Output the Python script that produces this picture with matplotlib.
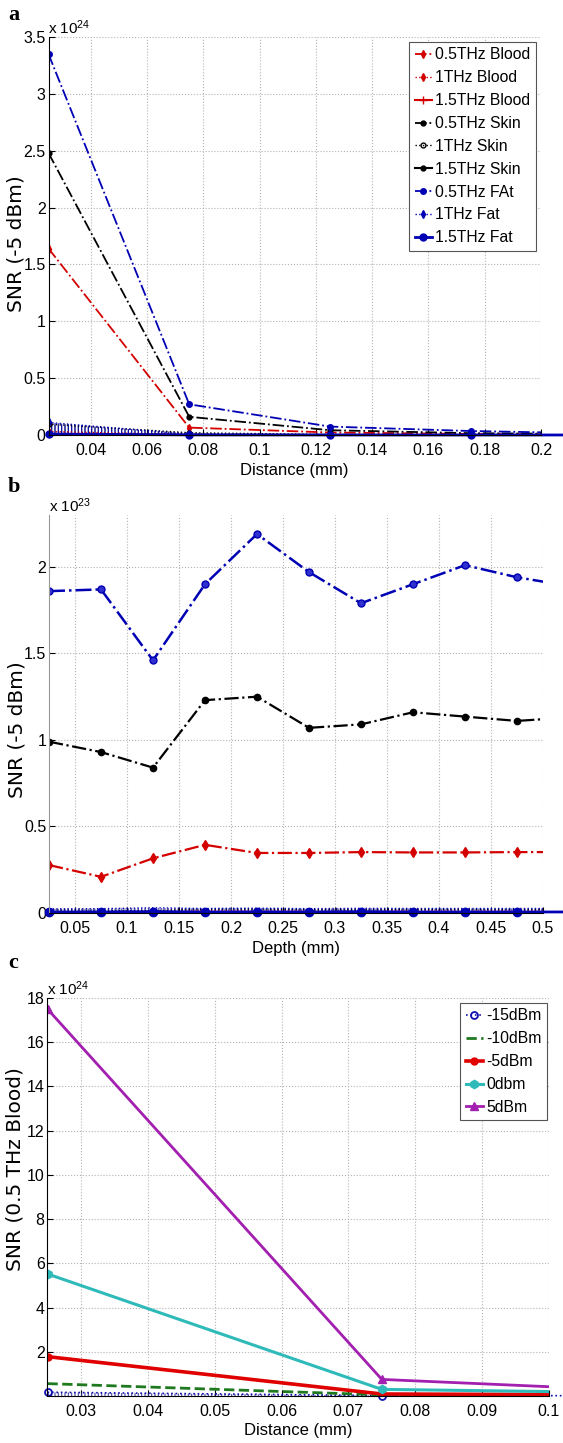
import numpy as np
import matplotlib
matplotlib.use("Agg")
import matplotlib.pyplot as plt

# --- panel a: SNR vs distance (x 1e24) ---
dist_a = [0.025, 0.075, 0.125, 0.175, 0.225]
blood_05_a = [1.64, 0.065, 0.022, 0.009, 0.004]
blood_1_a = [0.030, 0.004, 0.001, 0.0005, 0.0003]
blood_15_a = [0.004, 0.0006, 0.0002, 0.0001, 0.0001]
skin_05_a = [2.48, 0.16, 0.042, 0.016, 0.008]
skin_1_a = [0.095, 0.02, 0.004, 0.001, 0.0005]
skin_15_a = [0.006, 0.0008, 0.0003, 0.0001, 0.0001]
fat_05_a = [3.35, 0.27, 0.074, 0.035, 0.012]
fat_1_a = [0.11, 0.008, 0.002, 0.001, 0.0005]
fat_15_a = [0.008, 0.001, 0.0003, 0.0001, 0.0001]

# --- panel b: SNR vs depth (x 1e23) ---
depth_b = [0.025, 0.075, 0.125, 0.175, 0.225, 0.275, 0.325, 0.375, 0.425, 0.475, 0.525]
blood_05_b = [0.277, 0.209, 0.316, 0.394, 0.347, 0.347, 0.352, 0.350, 0.350, 0.352, 0.352]
blood_1_b = [0.010, 0.008, 0.011, 0.013, 0.012, 0.012, 0.012, 0.012, 0.012, 0.012, 0.012]
skin_05_b = [0.99, 0.93, 0.84, 1.23, 1.25, 1.07, 1.09, 1.16, 1.135, 1.11, 1.13]
skin_1_b = [0.018, 0.016, 0.015, 0.022, 0.022, 0.019, 0.019, 0.020, 0.020, 0.019, 0.020]
fat_05_b = [1.86, 1.87, 1.46, 1.90, 2.19, 1.97, 1.79, 1.90, 2.01, 1.94, 1.89]
fat_1_b = [0.024, 0.025, 0.030, 0.026, 0.028, 0.025, 0.027, 0.026, 0.026, 0.026, 0.026]
fat_15_b = [0.006, 0.006, 0.008, 0.006, 0.007, 0.006, 0.008, 0.006, 0.006, 0.006, 0.006]

# --- panel c: SNR (0.5 THz Blood) vs distance, several powers (x 1e24) ---
dist_c = [0.025, 0.075, 0.125]
snr_m15 = [0.17, 0.02, 0.01]
snr_m10 = [0.56, 0.05, 0.03]
snr_m5 = [1.78, 0.09, 0.04]
snr_0 = [5.52, 0.30, 0.10]
snr_5 = [17.5, 0.75, 0.09]

W, H = 563, 1443
RED, BLK, BLU = "#d40000", "#000000", "#0000b4"

plt.rcParams["font.family"] = ["Liberation Sans", "DejaVu Sans"]
plt.rcParams["mathtext.fontset"] = "custom"
plt.rcParams["mathtext.rm"] = "Liberation Sans"
plt.rcParams["mathtext.default"] = "regular"
plt.rcParams["hatch.linewidth"] = 0.8

fig = plt.figure(figsize=(W / 100, H / 100), dpi=100)


def px_axes(left, top, right, bottom):
    return fig.add_axes([left / W, 1 - bottom / H, (right - left) / W, (bottom - top) / H])


def style(ax, ylabel, xlabel, ylab_y, exponent):
    ax.grid(True, linestyle=":", color="#b4b4b4", linewidth=0.8)
    ax.set_axisbelow(True)
    for s in ("top", "right"):
        ax.spines[s].set_visible(False)
    ax.tick_params(direction="in", length=4, width=0.8, labelsize=11.5)
    ax.tick_params(axis="x", pad=6)
    ax.tick_params(axis="y", pad=2)
    ax.set_xlabel(xlabel, fontsize=12, labelpad=3)
    ax.set_ylabel(ylabel, fontsize=14.5, family="DejaVu Sans", va="center")
    ax.yaxis.set_label_coords(-32 / (ax.get_position().width * W), ylab_y)
    ax.text(0.0, 1.0, "x 10$^{%d}$" % exponent, transform=ax.transAxes,
            ha="left", va="bottom", fontsize=11)


def hatch_band(ax, x, y, color):
    ax.fill_between(x, 0, y, facecolor="none", edgecolor=color, linewidth=0,
                    hatch="|||||", alpha=0.9)


def add_legend(ax, right_px, top_px):
    leg = ax.legend(loc="upper right", bbox_to_anchor=(right_px / W, 1 - top_px / H),
                    bbox_transform=fig.transFigure, fontsize=11.3, handlelength=1.1,
                    handletextpad=0.2, labelspacing=0.5, borderpad=0.35, borderaxespad=0,
                    fancybox=False, framealpha=1)
    leg.get_frame().set_edgecolor("#555555")
    leg.get_frame().set_linewidth(0.8)


# ---------------- a ----------------
ax = px_axes(48.5, 37, 541, 435)
hatch_band(ax, dist_a, skin_1_a, "#404040")
hatch_band(ax, dist_a, fat_1_a, BLU)
ax.plot(dist_a, blood_05_a, "-.", color=RED, marker="d", ms=4, lw=1.3, label="0.5THz Blood")
ax.plot(dist_a, blood_1_a, ":", color=RED, marker="d", ms=4, lw=1.0, label="1THz Blood")
ax.plot(dist_a, blood_15_a, "-", color=RED, marker="+", ms=6, lw=1.5, label="1.5THz Blood")
ax.plot(dist_a, skin_05_a, "-.", color=BLK, marker="o", ms=3.5, lw=1.3, label="0.5THz Skin")
ax.plot(dist_a, skin_1_a, ":", color=BLK, marker="o", ms=3.5, mfc="none", lw=1.0, label="1THz Skin")
ax.plot(dist_a, skin_15_a, "-", color=BLK, marker="o", ms=3.5, lw=1.5, label="1.5THz Skin")
ax.plot(dist_a, fat_05_a, "-.", color=BLU, marker="o", ms=4, lw=1.3, label="0.5THz FAt")
ax.plot(dist_a, fat_1_a, ":", color=BLU, marker="d", ms=4, lw=1.0, label="1THz Fat")
ax.plot(dist_a, fat_15_a, "-", color=BLU, marker="o", ms=5, lw=2.0, label="1.5THz Fat", clip_on=False)
ax.set_xlim(0.025, 0.2)
ax.set_ylim(0, 3.5)
ax.set_xticks([0.04, 0.06, 0.08, 0.1, 0.12, 0.14, 0.16, 0.18, 0.2])
ax.set_xticklabels(["0.04", "0.06", "0.08", "0.1", "0.12", "0.14", "0.16", "0.18", "0.2"])
ax.set_yticks([0, 0.5, 1, 1.5, 2, 2.5, 3, 3.5])
ax.set_yticklabels(["0", "0.5", "1", "1.5", "2", "2.5", "3", "3.5"])
style(ax, "SNR (-5 dBm)", "Distance (mm)", 0.48, 24)
add_legend(ax, 536, 42)

# ---------------- b ----------------
ax = px_axes(49, 515, 543, 913)
hatch_band(ax, depth_b, fat_1_b, "#4040c0")
ax.plot(depth_b, blood_05_b, "-.", color=RED, marker="d", ms=5, lw=1.6)
ax.plot(depth_b, blood_1_b, ":", color=RED, lw=1.0)
ax.plot(depth_b, skin_05_b, "-.", color=BLK, marker="o", ms=4.5, lw=1.6)
ax.plot(depth_b, skin_1_b, ":", color=BLK, lw=1.0)
ax.plot(depth_b, fat_05_b, "-.", color=BLU, marker="o", ms=5, mfc="#3030d0", lw=1.8)
ax.plot(depth_b, fat_1_b, ":", color=BLU, lw=1.0)
ax.plot(depth_b, fat_15_b, "-", color=BLU, marker="o", ms=6, lw=2.0, clip_on=False)
ax.set_xlim(0.025, 0.5)
ax.set_ylim(0, 2.3)
ax.set_xticks([0.05, 0.1, 0.15, 0.2, 0.25, 0.3, 0.35, 0.4, 0.45, 0.5])
ax.set_xticklabels(["0.05", "0.1", "0.15", "0.2", "0.25", "0.3", "0.35", "0.4", "0.45", "0.5"])
ax.set_yticks([0, 0.5, 1, 1.5, 2])
ax.set_yticklabels(["0", "0.5", "1", "1.5", "2"])
style(ax, "SNR (-5 dBm)", "Depth (mm)", 0.46, 23)
ax.spines["left"].set_color("#999999")

# ---------------- c ----------------
ax = px_axes(47.5, 998, 549, 1396)
hatch_band(ax, dist_c, snr_m15, "#333399")
ax.plot(dist_c, snr_m15, ":", color="#1010b0", marker="o", ms=5, mfc="none", mew=1.3, lw=1.2,
        label="-15dBm", clip_on=False)
ax.plot(dist_c, snr_m10, "--", color="#1f7a1f", lw=2.0, label="-10dBm")
ax.plot(dist_c, snr_m5, "-", color="#e00000", marker="o", ms=5, lw=2.6, label="-5dBm")
ax.plot(dist_c, snr_0, "-", color="#2fbaba", marker="h", ms=6, lw=2.2, label="0dbm")
ax.plot(dist_c, snr_5, "-", color="#a21fb0", marker="^", ms=6, lw=2.0, label="5dBm")
ax.set_xlim(0.025, 0.1)
ax.set_ylim(0, 18)
ax.set_xticks([0.03, 0.04, 0.05, 0.06, 0.07, 0.08, 0.09, 0.1])
ax.set_xticklabels(["0.03", "0.04", "0.05", "0.06", "0.07", "0.08", "0.09", "0.1"])
ax.set_yticks([2, 4, 6, 8, 10, 12, 14, 16, 18])
style(ax, "SNR (0.5 THz Blood)", "Distance (mm)", 0.57, 24)
add_legend(ax, 547, 1003)

# panel letters
for letter, ypx in (("a", 15), ("b", 487), ("c", 963)):
    fig.text(8 / W, 1 - ypx / H, letter, family="Liberation Serif", fontweight="bold",
             fontsize=16, ha="left", va="center")

fig.savefig("out.png", dpi=100)
